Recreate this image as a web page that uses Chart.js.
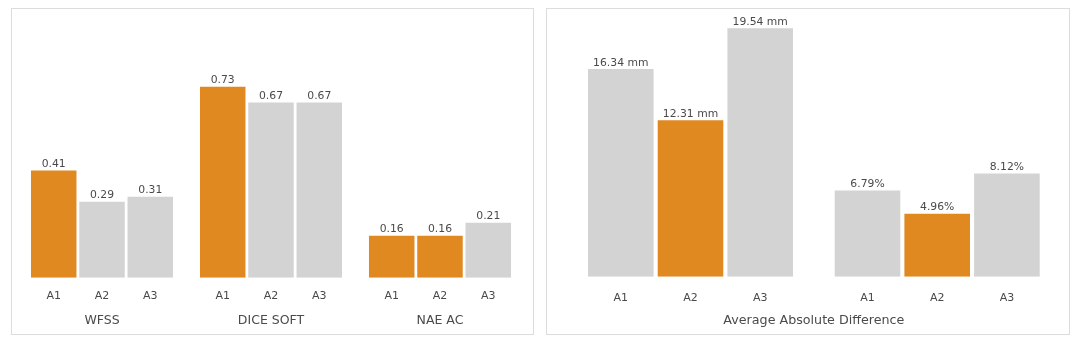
<!DOCTYPE html>
<html><head><meta charset="utf-8">
<script src="https://cdn.jsdelivr.net/npm/chart.js@4.4.1/dist/chart.umd.min.js"></script>
<style>
html,body{margin:0;padding:0;background:#fff;width:1080px;height:343px;overflow:hidden;}
.panel{position:absolute;border:1px solid #dcdcdc;box-sizing:border-box;}
.cv{position:absolute;}
canvas{display:block;}
</style></head><body>
<div class="panel" style="left:11px;top:8px;width:523px;height:327px"></div>
<div class="panel" style="left:546px;top:8px;width:524px;height:327px"></div>
<div class="cv" style="left:12px;top:10px;"><canvas id="c1" width="521" height="324"></canvas></div>
<div class="cv" style="left:547px;top:10px;"><canvas id="c2" width="522" height="324"></canvas></div>
<script>
// ---- data ----
const seriesNames = ['A1', 'A2', 'A3'];

const leftGroups = ['WFSS', 'DICE SOFT', 'NAE AC'];
const leftA1 = [0.41, 0.73, 0.16];
const leftA2 = [0.29, 0.67, 0.16];
const leftA3 = [0.31, 0.67, 0.21];
const leftHighlight = [[true, true, true], [false, false, true], [false, false, false]]; // per series, per group

const rightGroups = ['mm', '%'];
const rightUnits = [' mm', '%'];
const rightA1 = [16.34, 6.79];
const rightA2 = [12.31, 4.96];
const rightA3 = [19.54, 8.12];
const rightHighlight = [[false, false], [true, true], [false, false]];
const rightTitle = 'Average Absolute Difference';

// ---- style ----
const ORANGE = '#DF8920';
const GREY = '#D3D3D3';
const TEXT = '#4a4a4a';
const FONT = '"DejaVu Sans", "Liberation Sans", sans-serif';

const barLabels = {
  id: 'barLabels',
  afterDatasetsDraw(chart, args, opts) {
    const ctx = chart.ctx;
    const base = chart.scales.y.getPixelForValue(0);
    chart.data.datasets.forEach((ds, di) => {
      const meta = chart.getDatasetMeta(di);
      meta.data.forEach((bar, i) => {
        ctx.save();
        ctx.fillStyle = TEXT;
        ctx.textAlign = 'center';
        ctx.font = opts.valueSize + 'px ' + FONT;
        ctx.textBaseline = 'alphabetic';
        ctx.fillText(opts.fmt(ds.data[i], i), bar.x, bar.y - 3.5);
        ctx.font = opts.subSize + 'px ' + FONT;
        ctx.textBaseline = 'middle';
        ctx.fillText(ds.label, bar.x, base + opts.subOffset);
        ctx.restore();
      });
    });
  }
};

function makeDatasets(seriesVals, highlight, cp, bp) {
  return seriesVals.map((vals, si) => ({
    label: seriesNames[si],
    data: vals,
    backgroundColor: vals.map((v, gi) => highlight[si][gi] ? ORANGE : GREY),
    borderWidth: 0,
    categoryPercentage: cp,
    barPercentage: bp
  }));
}

new Chart(document.getElementById('c1'), {
  type: 'bar',
  data: {
    labels: leftGroups,
    datasets: makeDatasets([leftA1, leftA2, leftA3], leftHighlight, 0.857, 0.942)
  },
  options: {
    responsive: false, animation: false,
    layout: { padding: { left: 5.5, right: 8.5, top: 58.5, bottom: 0 } },
    plugins: {
      legend: { display: false }, tooltip: { enabled: false },
      barLabels: { valueSize: 10.8, subSize: 11, subOffset: 18, fmt: (v) => v.toFixed(2) }
    },
    scales: {
      x: {
        grid: { display: false, drawTicks: false }, border: { display: false },
        ticks: { font: { family: FONT, size: 12.5 }, color: TEXT, padding: 35.5, maxRotation: 0 },
        afterFit(s) { s.height = 56.3; }
      },
      y: { display: false, min: 0, max: 0.8 }
    }
  },
  plugins: [barLabels]
});

new Chart(document.getElementById('c2'), {
  type: 'bar',
  data: {
    labels: rightGroups,
    datasets: makeDatasets([rightA1, rightA2, rightA3], rightHighlight, 0.8476, 0.941)
  },
  options: {
    responsive: false, animation: false,
    layout: { padding: { left: 20.15, right: 8.45, top: 12.5, bottom: 0 } },
    plugins: {
      legend: { display: false }, tooltip: { enabled: false },
      barLabels: { valueSize: 10.8, subSize: 11, subOffset: 21.6, fmt: (v, i) => v.toFixed(2) + rightUnits[i] }
    },
    scales: {
      x: {
        grid: { display: false, drawTicks: false }, border: { display: false },
        ticks: { display: false },
        title: { display: true, text: rightTitle, color: TEXT, font: { family: FONT, size: 12.7 }, padding: { top: 0, bottom: 5.2 } },
        afterFit(s) { s.height = 57.3; }
      },
      y: { display: false, min: 0, max: 20 }
    }
  },
  plugins: [barLabels]
});
</script>
</body></html>
